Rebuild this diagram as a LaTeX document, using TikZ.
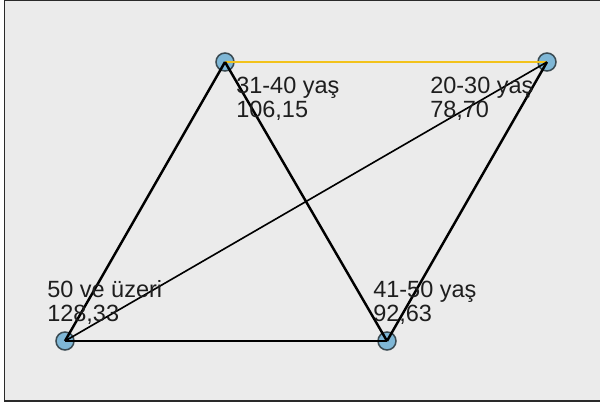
\documentclass[tikz,border=0pt]{standalone}
\usepackage{fontspec}
\setmainfont{Liberation Sans}
\usetikzlibrary{positioning,calc}
\definecolor{bgpanel}{HTML}{EBEBEB}
\definecolor{frame}{HTML}{2A2A2A}
\definecolor{nodefill}{HTML}{7FB7D6}
\definecolor{nodeline}{HTML}{3A4A52}
\definecolor{gold}{HTML}{F2C21B}
\definecolor{ink}{HTML}{1E1E1E}
\tikzset{
  agenode/.style={circle, draw=nodeline, fill=nodefill, line width=1.1pt, minimum size=0.45cm, inner sep=0pt},
  link/.style={draw=black, line width=1.75pt},
  thinlink/.style={draw=black, line width=1.15pt},
  hilink/.style={draw=gold, line width=1.4pt},
  agelabel/.style={font=\fontsize{16.7}{17.1}\selectfont, text=ink, align=left, inner sep=0pt, anchor=north west},
}

\begin{document}
\begin{tikzpicture}[x=0.025cm,y=-0.025cm]

% -----------------------------------------------------------------------------
% canvas and frame
% -----------------------------------------------------------------------------
\useasboundingbox (0,0) rectangle (600,408);
\fill[white] (0,0) rectangle (600,408);
\fill[bgpanel] (5,1) rectangle (600,400);
\draw[frame, line width=0.7pt] (5,0.5) -- (600,0.5);
\draw[frame, line width=1.4pt] (4.5,0) -- (4.5,401) -- (600,401);

% -----------------------------------------------------------------------------
% age groups
% -----------------------------------------------------------------------------
\node[agenode] (n3140) at (225,62) {};
\node[agenode] (n2030) at (547,62) {};
\node[agenode] (n50) at (65,341) {};
\node[agenode] (n4150) at (387,341) {};

% links (drawn over the circles, centre to centre)
\draw[hilink] (n3140.center) -- (n2030.center);
\draw[link] (n3140.center) -- (n50.center);
\draw[link] (n3140.center) -- (n4150.center);
\draw[thinlink] (n2030.center) -- (n50.center);
\draw[link] (n2030.center) -- (n4150.center);
\draw[link] (n50.center) -- (n4150.center);

% labels
\node[agelabel] (l3140) at (236,77) {31-40 yaş\\106,15};
\node[agelabel] (l2030) at (430,77) {20-30 yaş\\78,70};
\node[agelabel] (l50) at (47,280) {50 ve üzeri\\128,33};
\node[agelabel] (l4150) at (373,281) {41-50 yaş\\92,63};

\end{tikzpicture}
\end{document}
